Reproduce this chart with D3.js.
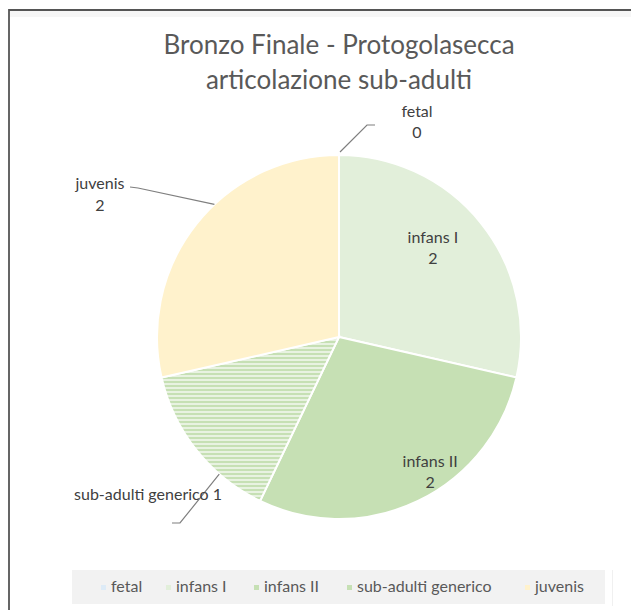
<!DOCTYPE html>
<html>
<head>
<meta charset="utf-8">
<script src="https://cdn.jsdelivr.net/npm/d3@7"></script>
<style>
  html, body { margin: 0; padding: 0; background: #ffffff; }
  svg { display: block; font-family: Lato, "Open Sans", sans-serif; }
</style>
</head>
<body>
<svg id="chart" width="631" height="610"></svg>
<script>
// Sub-adult age classes, Final Bronze Age (Protogolasecca)
const categories = ["fetal", "infans I", "infans II", "sub-adulti generico", "juvenis"];
const counts = [0, 2, 2, 1, 2];
const colors = ["#ddebf7", "#e2efda", "#c6e0b4", "url(#hatch)", "#fff2cc"];
const legendSwatch = ["#ddebf7", "#e2efda", "#c6e0b4", "#c6e0b4", "#fff2cc"];
const titleLines = ["Bronzo Finale - Protogolasecca", "articolazione sub-adulti"];

const svg = d3.select("#chart");
const W = 631, H = 610;

// frame
svg.append("rect").attr("x", 10).attr("y", 11).attr("width", W - 10).attr("height", 6).attr("fill", "#f6f6f6");
svg.append("path")
  .attr("d", `M9,${H} L9,10 L${W},10`)
  .attr("fill", "none").attr("stroke", "#555555").attr("stroke-width", 1.8);

// horizontal hatch for the generic sub-adult slice
const defs = svg.append("defs");
const pat = defs.append("pattern").attr("id", "hatch")
  .attr("patternUnits", "userSpaceOnUse").attr("width", 8).attr("height", 4);
pat.append("rect").attr("width", 8).attr("height", 4).attr("fill", "#e8f2e1");
pat.append("rect").attr("y", 0).attr("width", 8).attr("height", 2).attr("fill", "#c6e0b4");

// title
svg.append("g").selectAll("text").data(titleLines).join("text")
  .attr("x", 339).attr("y", (d, i) => 54 + i * 35)
  .attr("text-anchor", "middle")
  .attr("font-size", 26).attr("fill", "#595959")
  .text(d => d);

const cx = 339, cy = 337, R = 182;
const pie = d3.pie().sort(null).value(d => d.v);
const arcs = pie(categories.map((c, i) => ({ c, v: counts[i], i })));
const arc = d3.arc().innerRadius(0).outerRadius(R);

const g = svg.append("g").attr("transform", `translate(${cx},${cy})`);
g.selectAll("path").data(arcs).join("path")
  .attr("d", arc)
  .attr("fill", d => colors[d.data.i])
  .attr("stroke", "#ffffff").attr("stroke-width", 2);

// data labels inside the two infans slices
const lblColor = "#404040", lblSize = 16;
const inner = d3.arc().innerRadius(R * 0.66).outerRadius(R * 0.66);
arcs.filter(d => d.data.c === "infans I" || d.data.c === "infans II").forEach(d => {
  const [x, y] = inner.centroid(d);
  const off = d.data.c === "infans I" ? [0, -14] : [39, 27];
  const t = g.append("text").attr("text-anchor", "middle")
    .attr("font-size", lblSize).attr("fill", lblColor);
  t.append("tspan").attr("x", x + off[0]).attr("y", y + off[1] - 5).text(d.data.c);
  t.append("tspan").attr("x", x + off[0]).attr("y", y + off[1] + 16).text(d.data.v);
});

// outside labels with leader lines
const edgeAt = (d, f) => {
  const a = d.startAngle + (d.endAngle - d.startAngle) * f;
  return [cx + R * Math.sin(a), cy - R * Math.cos(a)];
};
const byName = n => arcs.find(d => d.data.c === n);
const leader = svg.append("g").attr("fill", "none").attr("stroke", "#7f7f7f").attr("stroke-width", 1.2);
const labels = svg.append("g").attr("font-size", lblSize).attr("fill", lblColor);

// fetal (zero slice at the top)
{
  const [x0, y0] = edgeAt(byName("fetal"), 0.5);
  leader.append("path").attr("d", `M${x0 + 1},${y0 - 3} L${x0 + 28},${y0 - 30} L${x0 + 36},${y0 - 30}`);
  const t = labels.append("text").attr("text-anchor", "middle");
  t.append("tspan").attr("x", 417).attr("y", 117).text("fetal");
  t.append("tspan").attr("x", 417).attr("y", 138).text(counts[0]);
}
// juvenis
{
  const [x0, y0] = edgeAt(byName("juvenis"), 0.58);
  leader.append("path").attr("d", `M${x0},${y0} L138,188 L130,187`);
  const t = labels.append("text").attr("text-anchor", "middle");
  t.append("tspan").attr("x", 100).attr("y", 189).text("juvenis");
  t.append("tspan").attr("x", 100).attr("y", 211).text(counts[4]);
}
// sub-adulti generico
{
  const [x0, y0] = edgeAt(byName("sub-adulti generico"), 0.3);
  leader.append("path").attr("d", `M${x0},${y0} L180,523 L172,523`);
  labels.append("text").attr("text-anchor", "end")
    .attr("x", 222).attr("y", 500).text("sub-adulti generico " + counts[3]);
}

// legend
const lg = svg.append("g");
lg.append("rect").attr("x", 72).attr("y", 570).attr("width", 533).attr("height", 34).attr("fill", "#f2f2f2");
lg.append("line").attr("x1", 612.5).attr("x2", 612.5).attr("y1", 570).attr("y2", 606).attr("stroke", "#f0f0f0");
const legendX = [101, 166, 254, 347, 525];
categories.forEach((c, i) => {
  lg.append("rect").attr("x", legendX[i]).attr("y", 585).attr("width", 5).attr("height", 5)
    .attr("fill", legendSwatch[i]);
  lg.append("text").attr("x", legendX[i] + 10).attr("y", 592)
    .attr("font-size", 16).attr("fill", "#595959").text(c);
});
</script>
</body>
</html>
